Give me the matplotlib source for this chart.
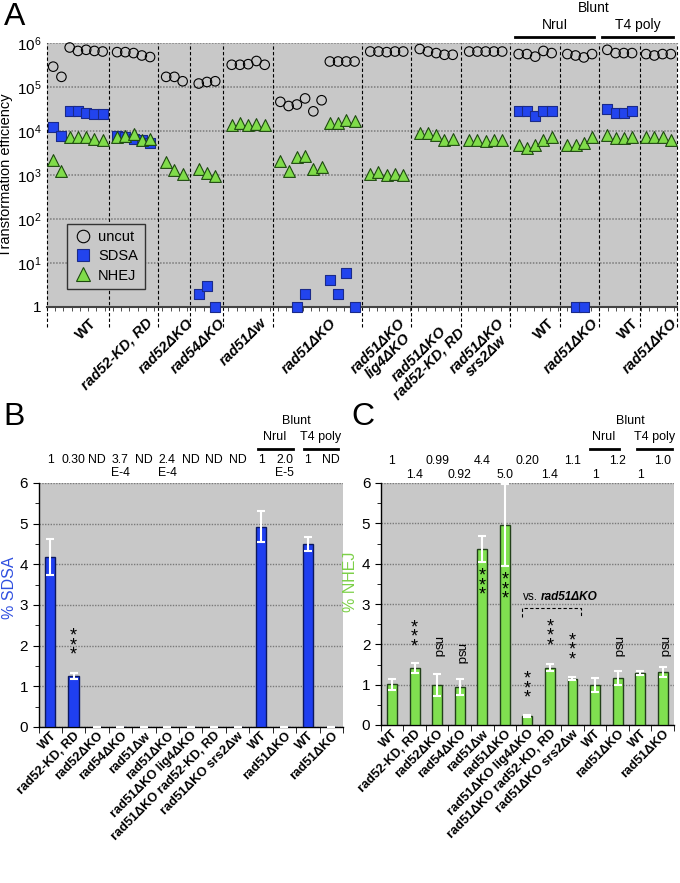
import numpy as np
import matplotlib
matplotlib.use("Agg")
import matplotlib.pyplot as plt
from matplotlib.lines import Line2D
from matplotlib.ticker import MultipleLocator, FixedLocator
from matplotlib.transforms import blended_transform_factory, ScaledTranslation

plt.rcParams['font.family'] = ['Liberation Sans', 'DejaVu Sans']
plt.rcParams['mathtext.fontset'] = 'custom'
plt.rcParams['mathtext.rm'] = 'Liberation Sans'

nan = np.nan

# -----------------------------
# Panel A data (transformation efficiency, one list per strain group)
# -----------------------------
a_groups = ["WT", "rad52-KD, RD", "rad52ΔKO", "rad54ΔKO", "rad51Δw", "rad51ΔKO",
            "rad51ΔKO\nlig4ΔKO", "rad51ΔKO\nrad52-KD, RD", "rad51ΔKO\nsrs2Δw",
            "WT", "rad51ΔKO", "WT", "rad51ΔKO"]
a_uncut = [
    [2.9e5, 1.7e5, 7.9e5, 6.6e5, 7.0e5, 6.6e5, 6.4e5],
    [6.2e5, 6.2e5, 5.9e5, 5.2e5, 4.8e5],
    [1.7e5, 1.7e5, 1.35e5],
    [1.2e5, 1.3e5, 1.35e5],
    [3.2e5, 3.2e5, 3.3e5, 3.9e5, 3.2e5],
    [4.6e4, 3.7e4, 4.0e4, 5.5e4, 2.8e4, 5.0e4, 3.8e5, 3.8e5, 3.8e5, 3.8e5],
    [6.4e5, 6.4e5, 6.2e5, 6.4e5, 6.4e5],
    [7.3e5, 6.4e5, 5.9e5, 5.4e5, 5.4e5],
    [6.4e5, 6.4e5, 6.4e5, 6.4e5, 6.4e5],
    [5.6e5, 5.6e5, 4.9e5, 6.6e5, 5.9e5],
    [5.6e5, 5.2e5, 4.7e5, 5.6e5],
    [7.0e5, 5.9e5, 5.9e5, 5.9e5],
    [5.6e5, 5.2e5, 5.6e5, 5.6e5],
]
a_sdsa = [
    [1.25e4, 7.8e3, 2.9e4, 2.8e4, 2.5e4, 2.4e4, 2.4e4],
    [7.9e3, 7.2e3, 6.6e3, 6.3e3, 5.3e3],
    [nan, nan, nan],
    [2, 3, 1],
    [nan, nan, nan, nan, nan],
    [nan, nan, 1, 2, nan, nan, 4.2, 2, 6, 1],
    [nan, nan, nan, nan, nan],
    [nan, nan, nan, nan, nan],
    [nan, nan, nan, nan, nan],
    [2.8e4, 2.9e4, 2.2e4, 2.9e4, 2.8e4],
    [nan, 1, 1, nan],
    [3.2e4, 2.5e4, 2.6e4, 2.8e4],
    [nan, nan, nan, nan],
]
a_nhej = [
    [2.2e3, 1.26e3, 7.2e3, 7.2e3, 7.2e3, 6.6e3, 6.3e3],
    [7.2e3, 7.9e3, 8.7e3, 6.3e3, 6.6e3],
    [2.0e3, 1.28e3, 1.05e3],
    [1.4e3, 1.1e3, 0.96e3],
    [1.4e4, 1.5e4, 1.35e4, 1.47e4, 1.4e4],
    [2.1e3, 1.25e3, 2.5e3, 2.7e3, 1.35e3, 1.55e3, 1.5e4, 1.5e4, 1.8e4, 1.7e4],
    [1.05e3, 1.2e3, 1.0e3, 1.05e3, 1.0e3],
    [8.9e3, 8.9e3, 8.3e3, 6.3e3, 6.6e3],
    [6.1e3, 6.1e3, 5.8e3, 6.1e3, 6.3e3],
    [4.9e3, 4.2e3, 4.9e3, 6.1e3, 7.2e3],
    [4.9e3, 4.9e3, 5.2e3, 7.2e3],
    [8.3e3, 7.0e3, 7.0e3, 7.2e3],
    [7.2e3, 7.2e3, 7.2e3, 6.1e3],
]
a_group_width = [7.5, 6, 3.9, 4, 6, 10.8, 6, 6, 6, 6, 4.8, 4.9, 4.5]

# -----------------------------
# Panels B and C data
# -----------------------------
bc_labels = ["WT", "rad52-KD, RD", "rad52ΔKO", "rad54ΔKO", "rad51Δw", "rad51ΔKO",
             "rad51ΔKO lig4ΔKO", "rad51ΔKO rad52-KD, RD", "rad51ΔKO srs2Δw",
             "WT", "rad51ΔKO", "WT", "rad51ΔKO"]
sdsa_pct = [4.19, 1.25, 0, 0, 0, 0, 0, 0, 0, 4.93, 0, 4.5, 0]
sdsa_err = [0.44, 0.07, 0, 0, 0, 0, 0, 0, 0, 0.39, 0, 0.17, 0]
sdsa_rel = ["1", "0.30", "ND", "3.7\nE-4", "ND", "2.4\nE-4", "ND", "ND", "ND",
            "1", "2.0\nE-5", "1", "ND"]
sdsa_sig = {1: 2.0}

nhej_pct = [1.01, 1.42, 1.0, 0.94, 4.37, 4.96, 0.22, 1.42, 1.15, 1.0, 1.16, 1.29, 1.32]
nhej_err = [0.14, 0.12, 0.27, 0.2, 0.32, 1.01, 0.03, 0.09, 0.04, 0.17, 0.18, 0.04, 0.12]
nhej_rel = ["1", "1.4", "0.99", "0.92", "4.4", "5.0", "0.20", "1.4", "1.1",
            "1", "1.2", "1", "1.0"]
nhej_sig = ["", "***", "nsd", "nsd", "***", "***", "***", "***", "***", "", "nsd", "", "nsd"]
nhej_sig_y = [0, 2.17, 1.95, 1.76, 3.45, 3.35, 0.9, 2.2, 1.85, 0, 1.95, 0, 1.95]

BG = '#c8c8c8'
BLUE = '#2244ee'
BLUE_EDGE = '#1a2a8a'
GREEN = '#80dc4a'
GREEN_EDGE = '#1e4a10'
GRID = '#7a7a7a'

W, H = 680, 883
fig = plt.figure(figsize=(6.8, 8.83), dpi=100)


def px_axes(l, t, r, b):
    return fig.add_axes([l / W, 1 - b / H, (r - l) / W, (b - t) / H])


axA = px_axes(47, 43, 677, 307)
axB = px_axes(38.5, 483, 343, 727)
axC = px_axes(380.7, 483, 674, 725)

# -----------------------------
# Panel A
# -----------------------------
bounds = np.concatenate([[0], np.cumsum(a_group_width)])
centers = (bounds[:-1] + bounds[1:]) / 2

axA.set_facecolor(BG)
axA.set_yscale('log')
axA.set_ylim(1, 1e6)
axA.set_xlim(0, bounds[-1])

for g in range(len(a_groups)):
    n = len(a_uncut[g])
    xs = centers[g] + np.arange(n) - (n - 1) / 2
    axA.scatter(xs, a_uncut[g], s=47, marker='o', facecolors='none',
                edgecolors='black', linewidths=0.8, zorder=3, clip_on=False)
    axA.scatter(xs, a_sdsa[g], s=52, marker='s', color=BLUE,
                edgecolors=BLUE_EDGE, linewidths=0.8, zorder=4, clip_on=False)
    axA.scatter(xs, a_nhej[g], s=72, marker='^', color=GREEN,
                edgecolors=GREEN_EDGE, linewidths=0.8, zorder=5, clip_on=False)

for b in bounds:
    axA.axvline(b, ymin=-0.075, ymax=1, color='black', lw=0.8,
                ls=(0, (3, 2)), clip_on=False, zorder=2)

axA.set_yticks([1, 1e1, 1e2, 1e3, 1e4, 1e5, 1e6])
axA.set_yticklabels(['1'] + [r'$\mathregular{10^{%d}}$' % k for k in range(1, 7)])
axA.yaxis.set_minor_locator(FixedLocator([]))
axA.yaxis.grid(True, ls=(0, (1, 1)), color=GRID, lw=1.1)
axA.set_axisbelow(True)
axA.tick_params(axis='y', length=0, labelsize=11, pad=4)
axA.set_xticks([])
axA.xaxis.set_minor_locator(MultipleLocator(1))
axA.tick_params(axis='x', which='minor', length=3, direction='out', color='#333333')
for s in ['left', 'right', 'top']:
    axA.spines[s].set_visible(False)
axA.spines['bottom'].set_color('#444444')
axA.spines['bottom'].set_linewidth(1.5)
axA.set_ylabel('Transformation efficiency', fontsize=10.5, labelpad=3)

for g, lab in enumerate(a_groups):
    style = 'normal' if lab == 'WT' else 'italic'
    axA.annotate(lab, xy=(centers[g] + 1.4, 0), xycoords=('data', 'axes fraction'),
                 xytext=(0, -9), textcoords='offset pixels', ha='right', va='top',
                 rotation=45, rotation_mode='anchor', fontweight='bold',
                 fontstyle=style, fontsize=10.5, multialignment='center',
                 linespacing=0.95)

handles = [
    Line2D([], [], ls='none', marker='o', mfc='none', mec='black', ms=9, mew=0.8, label='uncut'),
    Line2D([], [], ls='none', marker='s', mfc=BLUE, mec=BLUE_EDGE, ms=9, mew=0.8, label='SDSA'),
    Line2D([], [], ls='none', marker='^', mfc=GREEN, mec=GREEN_EDGE, ms=10, mew=0.8, label='NHEJ'),
]
axA.legend(handles=handles, loc='lower left', bbox_to_anchor=(0.02, 0.04),
           frameon=True, fancybox=False, edgecolor='#333333', facecolor=BG,
           framealpha=1, fontsize=10.5, handletextpad=0.4, labelspacing=0.35,
           borderpad=0.45, handlelength=1.3)

tA = blended_transform_factory(axA.transData, axA.transAxes)
axA.plot([bounds[9] + 0.6, bounds[11] - 0.7], [1.024, 1.024], transform=tA,
         color='black', lw=2, clip_on=False)
axA.plot([bounds[11] + 0.35, bounds[13] - 0.5], [1.024, 1.024], transform=tA,
         color='black', lw=2, clip_on=False)
axA.text((bounds[9] + bounds[11]) / 2, 1.068, 'NruI', transform=tA,
         ha='center', va='center', fontsize=10)
axA.text((bounds[11] + bounds[13]) / 2, 1.068, 'T4 poly', transform=tA,
         ha='center', va='center', fontsize=10)
axA.text((bounds[9] + bounds[13]) / 2, 1.133, 'Blunt', transform=tA,
         ha='center', va='center', fontsize=10)


# -----------------------------
# Panels B and C (bar charts)
# -----------------------------
def style_bar_ax(ax, ylabel, ycolor, label_pos):
    ax.set_facecolor(BG)
    ax.set_xlim(-0.5, 12.5)
    ax.set_ylim(0, 6)
    ax.set_yticks(range(7))
    ax.yaxis.set_minor_locator(MultipleLocator(0.5))
    ax.yaxis.grid(True, ls=(0, (1, 1)), color=GRID, lw=1.0)
    ax.set_axisbelow(True)
    for s in ['top', 'right']:
        ax.spines[s].set_visible(False)
    ax.spines['left'].set_linewidth(1)
    ax.spines['bottom'].set_linewidth(1)
    ax.set_xticks(np.arange(13))
    ax.set_xticklabels(bc_labels, rotation=45, ha='right', rotation_mode='anchor',
                       fontweight='bold', fontsize=9.2)
    for lab in ax.get_xticklabels():
        lab.set_transform(lab.get_transform() + ScaledTranslation(3 / 100, 0, fig.dpi_scale_trans))
    ax.xaxis.set_minor_locator(FixedLocator(np.arange(-0.5, 13, 1)))
    ax.tick_params(axis='x', which='major', length=0, pad=2)
    ax.tick_params(axis='x', which='minor', length=4, direction='out')
    ax.tick_params(axis='y', which='major', length=4, labelsize=11)
    ax.tick_params(axis='y', which='minor', length=3)
    ax.set_ylabel(ylabel, color=ycolor, fontsize=11.5)
    ax.yaxis.set_label_coords(*label_pos)


def stars(ax, xv, yv):
    ax.text(xv, yv, '*\n*\n*', ha='center', va='center', fontsize=13,
            linespacing=0.42, zorder=5)


x = np.arange(13)

# Panel B
style_bar_ax(axB, '% SDSA', '#3050e0', (-0.07, 0.57))
axB.bar(x, sdsa_pct, width=0.44, color='#1f3ff0', edgecolor='#0b1760', lw=1, zorder=3)
axB.errorbar(x, sdsa_pct, yerr=sdsa_err, fmt='none', ecolor='white', elinewidth=1.5,
             capsize=3, capthick=1.5, zorder=4, clip_on=False)
for i, yv in sdsa_sig.items():
    stars(axB, x[i], yv)

tB = blended_transform_factory(axB.transData, axB.transAxes)
for i, txt in enumerate(sdsa_rel):
    axB.text(x[i], 1.118, txt, transform=tB, ha='center', va='top', fontsize=8.8,
             linespacing=1.1)
axB.plot([8.85, 10.35], [1.141, 1.141], transform=tB, color='black', lw=2, clip_on=False)
axB.plot([10.85, 12.3], [1.141, 1.141], transform=tB, color='black', lw=2, clip_on=False)
axB.text(9.6, 1.19, 'NruI', transform=tB, ha='center', va='center', fontsize=9)
axB.text(11.56, 1.19, 'T4 poly', transform=tB, ha='center', va='center', fontsize=9)
axB.text(10.53, 1.255, 'Blunt', transform=tB, ha='center', va='center', fontsize=9)

# Panel C
style_bar_ax(axC, '% NHEJ', '#7cd048', (-0.077, 0.59))
axC.bar(x, nhej_pct, width=0.44, color='#80e050', edgecolor='#22401a', lw=1, zorder=3)
axC.errorbar(x, nhej_pct, yerr=nhej_err, fmt='none', ecolor='white', elinewidth=1.5,
             capsize=3, capthick=1.5, zorder=4)
for i, sig in enumerate(nhej_sig):
    if sig == '***':
        stars(axC, x[i], nhej_sig_y[i])
    elif sig:
        axC.text(x[i], nhej_sig_y[i], sig, rotation=270, ha='center', va='center',
                 fontsize=9.5, zorder=5)

tC = blended_transform_factory(axC.transData, axC.transAxes)
for i, txt in enumerate(nhej_rel):
    yrow = 1.089 if i % 2 == 0 else 1.034
    axC.text(x[i], yrow, txt, transform=tC, ha='center', va='center', fontsize=8.8)
axC.plot([8.77, 10.05], [1.142, 1.142], transform=tC, color='black', lw=2, clip_on=False)
axC.plot([10.85, 12.4], [1.142, 1.142], transform=tC, color='black', lw=2, clip_on=False)
axC.text(9.4, 1.19, 'NruI', transform=tC, ha='center', va='center', fontsize=9)
axC.text(11.65, 1.19, 'T4 poly', transform=tC, ha='center', va='center', fontsize=9)
axC.text(10.55, 1.255, 'Blunt', transform=tC, ha='center', va='center', fontsize=9)

# "vs. rad51ΔKO" bracket
axC.plot([5.75, 5.75, 8.4, 8.4], [2.68, 2.9, 2.9, 2.68], color='black', lw=0.8,
         ls=(0, (3, 2)), zorder=5)
axC.text(6.45, 3.18, 'vs.', ha='right', va='center', fontsize=8.5)
axC.text(6.6, 3.18, 'rad51ΔKO', ha='left', va='center', fontsize=8.5,
         fontweight='bold', fontstyle='italic')

# Panel letters
fig.text(4 / W, 1 - 2 / H, 'A', fontsize=23, va='top', ha='left')
fig.text(3 / W, 1 - 402 / H, 'B', fontsize=23, va='top', ha='left')
fig.text(351 / W, 1 - 402 / H, 'C', fontsize=23, va='top', ha='left')

fig.savefig('out.png', dpi=100, facecolor='white')
